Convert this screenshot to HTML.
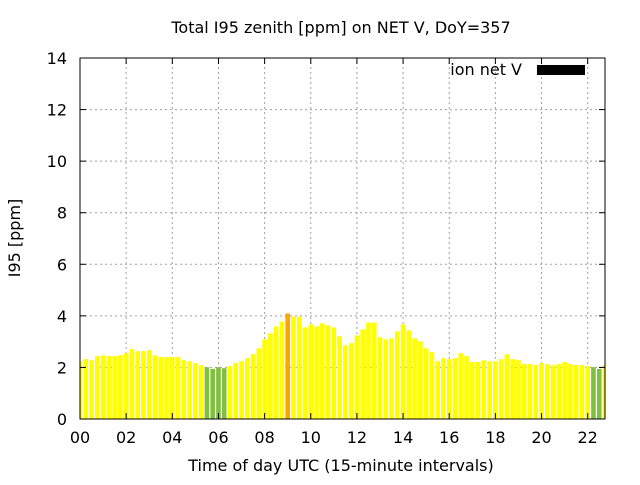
<!DOCTYPE html>
<html><head><meta charset="utf-8"><style>
body{margin:0;background:#fff;}
svg text{font-family:"DejaVu Sans","Liberation Sans",sans-serif;font-size:16px;fill:#000;}
</style></head><body>
<svg id="chart" width="640" height="480" xmlns="http://www.w3.org/2000/svg">
<rect width="640" height="480" fill="#fff"/>
<text x="341" y="33" text-anchor="middle">Total I95 zenith [ppm] on NET V, DoY=357</text>
<text transform="translate(20,238) rotate(-90)" text-anchor="middle">I95 [ppm]</text>
<text x="341" y="471" text-anchor="middle">Time of day UTC (15-minute intervals)</text>
<g id="grid"></g>
<g id="bars"></g>
<g id="axes"></g>
<text x="522" y="75" text-anchor="end">ion net V</text>
<rect x="537" y="65" width="48" height="10" fill="#000"/>
</svg>
<script>
const values = [2.24,2.32,2.28,2.44,2.47,2.44,2.44,2.47,2.55,2.71,2.63,2.63,2.67,2.47,2.40,2.40,2.40,2.40,2.28,2.24,2.17,2.09,2.01,1.94,2.01,1.97,2.05,2.17,2.24,2.36,2.51,2.74,3.09,3.32,3.59,3.78,4.09,3.97,3.97,3.55,3.67,3.59,3.71,3.63,3.55,3.21,2.86,2.94,3.24,3.47,3.74,3.74,3.17,3.09,3.13,3.40,3.67,3.44,3.13,3.01,2.74,2.59,2.24,2.36,2.32,2.36,2.55,2.44,2.21,2.21,2.28,2.24,2.24,2.32,2.51,2.32,2.28,2.13,2.13,2.09,2.17,2.13,2.09,2.13,2.21,2.13,2.09,2.09,2.05,2.01,1.94,2.09];
const yTicks = [0,2,4,6,8,10,12,14];
const xTicks = [0,2,4,6,8,10,12,14,16,18,20,22];
const xTickLabels = ["00","02","04","06","08","10","12","14","16","18","20","22"];
const X0=80,X1=605,Y0=419,Y1=58,XMAX=22.75,YMAX=14;
const xs=h=>X0+h/XMAX*(X1-X0);
const ys=v=>Y0-v/YMAX*(Y0-Y1);
const NS="http://www.w3.org/2000/svg";
function mk(tag,attrs,parent){const e=document.createElementNS(NS,tag);for(const k in attrs)e.setAttribute(k,attrs[k]);parent.appendChild(e);return e;}
const grid=document.getElementById('grid'),bars=document.getElementById('bars'),axes=document.getElementById('axes');
yTicks.forEach(v=>{
  const y=ys(v);
  if(v>0&&v<YMAX){const l=mk('line',{x1:X0,x2:X1,y1:y,y2:y,stroke:'#a0a0a0','stroke-dasharray':'2,3'},grid);
  
  }
  mk('line',{x1:X0,x2:X0+6,y1:y,y2:y,stroke:'#000'},axes);
  mk('line',{x1:X1,x2:X1-6,y1:y,y2:y,stroke:'#000'},axes);
  const t=mk('text',{x:X0-13,y:y+6,'text-anchor':'end'},axes);t.textContent=v;
  
  
});
xTicks.forEach((h,i)=>{
  const x=xs(h);
  if(h>0){const l=mk('line',{x1:x,x2:x,y1:Y0,y2:Y1,stroke:'#a0a0a0','stroke-dasharray':'2,3'},grid);
  
  }
  mk('line',{x1:x,x2:x,y1:Y0,y2:Y0-6,stroke:'#000'},axes);
  mk('line',{x1:x,x2:x,y1:Y1,y2:Y1+6,stroke:'#000'},axes);
  const t=mk('text',{x:x,y:443,'text-anchor':'middle'},axes);t.textContent=xTickLabels[i];
  
  
});
const step=(X1-X0)/XMAX*0.25, bw=step*0.8;
values.forEach((v,i)=>{
  const cx=xs(i*0.25);
  let l=Math.max(X0,cx-bw/2),r=Math.min(X1,cx+bw/2);
  if(r<=l)return;
  const col=v>4?'#ffa500':(v<2.03?'#80c040':'#ffff00');
  const b=mk('rect',{x:l,y:ys(v),width:r-l,height:Y0-ys(v),fill:col},bars);
  
  
});
const frame=mk('rect',{x:X0,y:Y1,width:X1-X0,height:Y0-Y1,fill:'none',stroke:'#000'},axes);


</script>
</body></html>
